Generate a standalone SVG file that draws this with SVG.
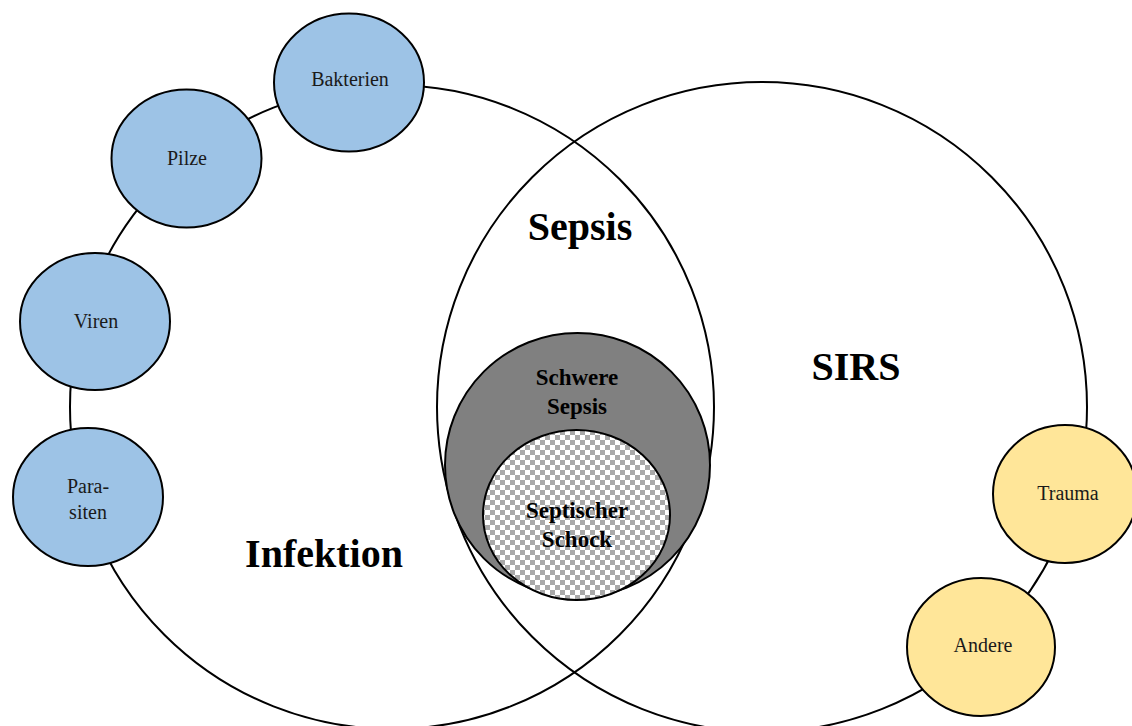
<svg xmlns="http://www.w3.org/2000/svg" width="1132" height="726" viewBox="0 0 1132 726">
<defs>
<pattern id="checker" width="10" height="10" patternUnits="userSpaceOnUse">
<rect width="10" height="10" fill="#ffffff"/>
<rect width="5" height="5" fill="#a9a9a9"/>
<rect x="5" y="5" width="5" height="5" fill="#a9a9a9"/>
</pattern>
<style>
.big{fill:none;stroke:#000;stroke-width:2}
.node{stroke:#000;stroke-width:2}
.blue{fill:#9dc3e6}
.yellow{fill:#ffe699}
.lbl{font-family:"Liberation Serif",serif;font-size:20px;fill:#1a1a1a;text-anchor:middle}
.title{font-family:"Liberation Serif",serif;font-size:40px;font-weight:bold;fill:#000;text-anchor:middle}
.inner{font-family:"Liberation Serif",serif;font-size:23px;font-weight:bold;fill:#000;text-anchor:middle}
</style>
</defs>
<rect width="1132" height="726" fill="#ffffff"/>
<g id="connectors">
<circle id="infektion-circle" class="big" cx="392" cy="407" r="322"/>
<circle id="sirs-circle" class="big" cx="762" cy="407" r="325"/>
</g>
<g id="schwere-sepsis">
<ellipse cx="577.5" cy="465" rx="132.5" ry="132" fill="#808080" stroke="#000" stroke-width="2"/>
<text class="inner" x="577" y="385">Schwere</text>
<text class="inner" x="577" y="414">Sepsis</text>
</g>
<g id="septischer-schock">
<ellipse cx="576.5" cy="515" rx="93.5" ry="85" fill="url(#checker)" stroke="#000" stroke-width="2"/>
<text class="inner" x="577" y="518">Septischer</text>
<text class="inner" x="577" y="547">Schock</text>
</g>
<g id="sepsis"><text class="title" x="580" y="240">Sepsis</text></g>
<g id="sirs"><text class="title" x="856" y="380">SIRS</text></g>
<g id="infektion"><text class="title" x="324" y="567">Infektion</text></g>
<g id="bakterien">
<ellipse class="node blue" cx="349" cy="82.5" rx="75" ry="69"/>
<text class="lbl" x="350" y="86">Bakterien</text>
</g>
<g id="pilze">
<ellipse class="node blue" cx="186.5" cy="158.5" rx="75" ry="69"/>
<text class="lbl" x="187" y="165">Pilze</text>
</g>
<g id="viren">
<ellipse class="node blue" cx="95" cy="321.5" rx="75" ry="68.5"/>
<text class="lbl" x="96" y="328">Viren</text>
</g>
<g id="parasiten">
<ellipse class="node blue" cx="88" cy="497" rx="75" ry="69"/>
<text class="lbl" x="88" y="493">Para-</text>
<text class="lbl" x="88" y="519">siten</text>
</g>
<g id="trauma">
<ellipse class="node yellow" cx="1065" cy="494" rx="72" ry="69"/>
<text class="lbl" x="1068" y="500">Trauma</text>
</g>
<g id="andere">
<ellipse class="node yellow" cx="981" cy="647" rx="74" ry="69"/>
<text class="lbl" x="983" y="652">Andere</text>
</g>
</svg>
